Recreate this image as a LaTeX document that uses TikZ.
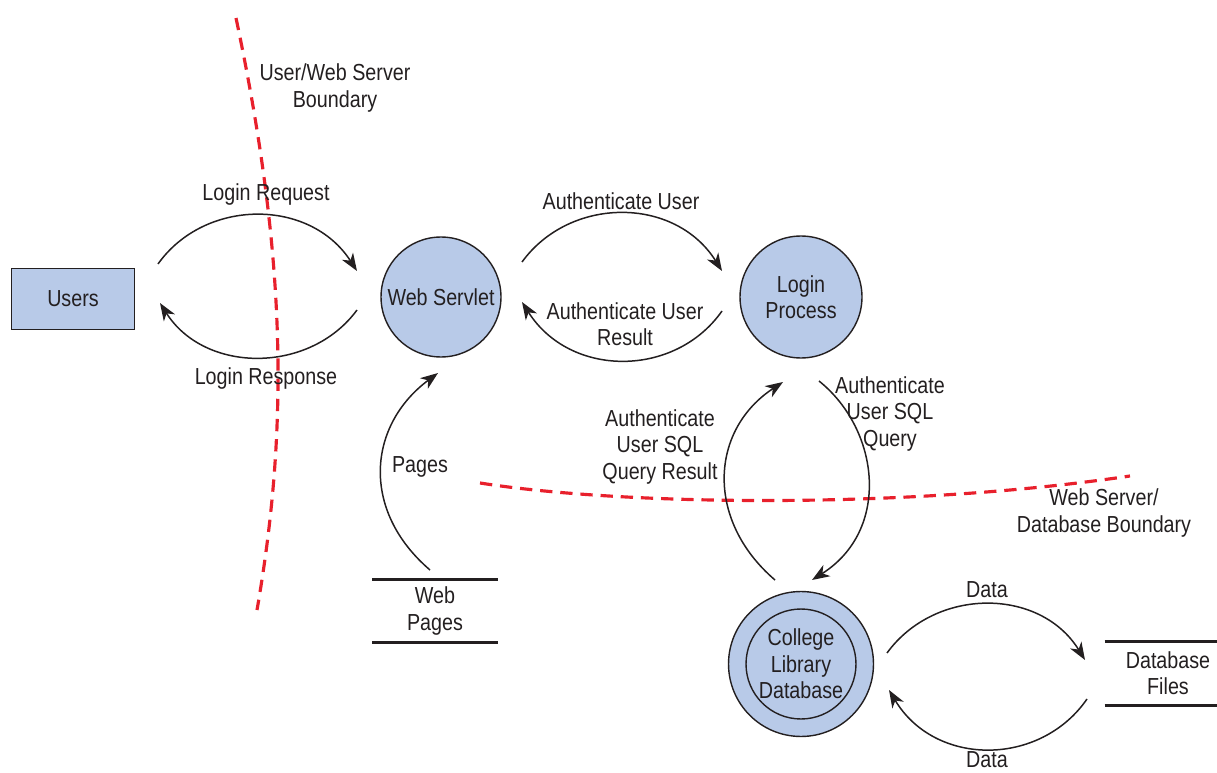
\documentclass[tikz,border=0pt]{standalone}
\usepackage{fontspec}
\setmainfont{Liberation Sans}[FakeStretch=0.85]
\usetikzlibrary{arrows.meta}
\definecolor{procfill}{RGB}{184,202,232}
\definecolor{bndred}{RGB}{232,32,44}
\definecolor{ink}{RGB}{35,31,32}
\begin{document}
\begin{tikzpicture}[x=0.02cm,y=-0.02cm,
  every node/.style={font=\fontsize{13.2}{15}\selectfont, text=ink, align=center},
  proc/.style={circle, draw=ink, line width=0.8pt, fill=procfill, inner sep=0pt},
  entity/.style={rectangle, draw=ink, line width=1.1pt, fill=procfill,
    minimum width=2.46cm, minimum height=1.22cm},
  store/.style={rectangle, inner sep=0pt, minimum height=1.24cm},
  storeline/.style={draw=ink, line width=1.7pt},
  flow/.style={draw=ink, line width=0.85pt,
    -{Stealth[length=10pt,width=7.5pt,inset=3pt]}},
  boundary/.style={draw=bndred, line width=1.8pt, dash pattern=on 7pt off 4.5pt}
]
\useasboundingbox (0,0) rectangle (1217,773);

% trust boundaries
\draw[boundary] (236,18) .. controls (285,250) and (290,420) .. (257,610);
\draw[boundary] (480,483) .. controls (620,505) and (900,510) .. (1130,476);
\node (b1) at (335,88) {User/Web Server\\Boundary};
\node (b2) at (1104,513) {Web Server/\\Database Boundary};

% entities, processes and stores
\node[entity] (users) at (73,299) {Users};
\node[proc, minimum size=2.4cm] (servlet) at (441,297) {Web Servlet};
\node[proc, minimum size=2.44cm] (login) at (801,297) {Login\\Process};
\node[proc, minimum size=2.9cm] (db) at (801,664) {};
\node[circle, draw=ink, line width=0.8pt, minimum size=2.2cm, inner sep=0pt]
  (dbin) at (db) {College\\Library\\Database};
\node[store, minimum width=2.5cm] (webpages) at (435,611) {Web\\Pages};
\draw[storeline] (webpages.north west) -- (webpages.north east);
\draw[storeline] (webpages.south west) -- (webpages.south east);
\node[store, minimum width=2.52cm, minimum height=1.26cm] (dbfiles) at (1168,673.5) {Database\\Files};
\draw[storeline] (dbfiles.north west) -- (dbfiles.north east);
\draw[storeline] (dbfiles.south west) -- (dbfiles.south east);

% flow end points
\coordinate (reqS) at (158,264);  \coordinate (reqE) at (357,271);
\coordinate (resS) at (357,310);  \coordinate (resE) at (160,303);
\coordinate (auS)  at (522,262);  \coordinate (auE)  at (722,271);
\coordinate (arS)  at (722,311);  \coordinate (arE)  at (522,302);
\coordinate (pgS)  at (430,570);  \coordinate (pgE)  at (438,373);
\coordinate (qrS)  at (775,580);  \coordinate (qrE)  at (783,382);
\coordinate (sqS)  at (819,381);  \coordinate (sqE)  at (812,580);
\coordinate (d1S)  at (887,653);  \coordinate (d1E)  at (1085,660);
\coordinate (d2S)  at (1087,699); \coordinate (d2E)  at (889,690);

% data flows
\draw[flow] (reqS) .. controls (205,198) and (310,198) .. (reqE);
\draw[flow] (resS) .. controls (310,374) and (205,374) .. (resE);
\draw[flow] (auS) .. controls (570,196) and (675,196) .. (auE);
\draw[flow] (arS) .. controls (675,378) and (570,378) .. (arE);
\draw[flow] (pgS) .. controls (360,510) and (368,425) .. (pgE);
\draw[flow] (qrS) .. controls (705,520) and (710,430) .. (qrE);
\draw[flow] (sqS) .. controls (880,430) and (891,530) .. (sqE);
\draw[flow] (d1S) .. controls (935,587) and (1040,587) .. (d1E);
\draw[flow] (d2S) .. controls (1040,767) and (935,767) .. (d2E);

% flow labels
\node (lreq) at (266,195) {Login Request};
\node (lres) at (266,379) {Login Response};
\node (lau)  at (621,201) {Authenticate User};
\node (lar)  at (625,324) {Authenticate User\\Result};
\node (lpg)  at (420,467) {Pages};
\node (lqr)  at (660,447) {Authenticate\\User SQL\\Query Result};
\node (lsq)  at (890,414) {Authenticate\\User SQL\\Query};
\node (ld1)  at (987,590) {Data};
\node (ld2)  at (987,760) {Data};
\end{tikzpicture}
\end{document}
